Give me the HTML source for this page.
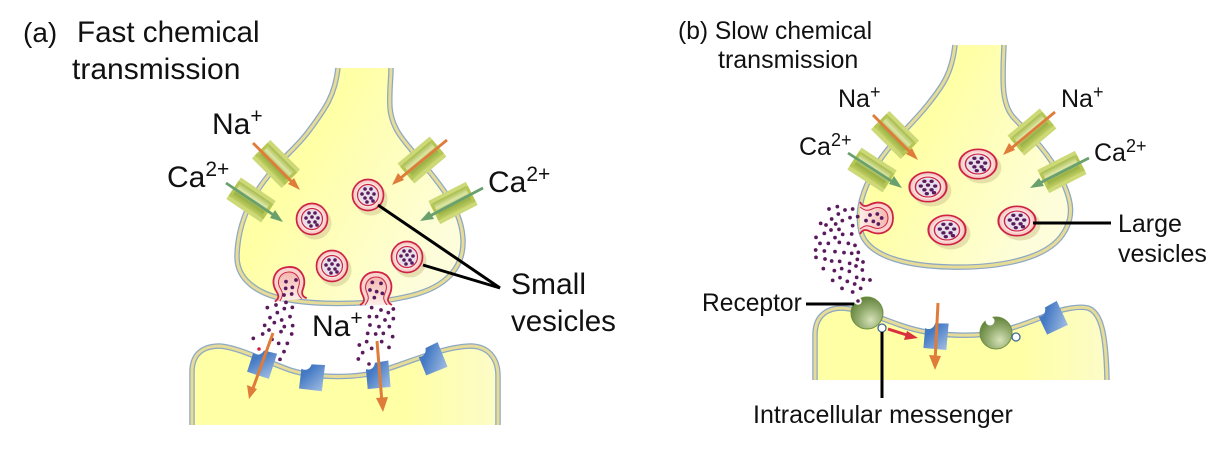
<!DOCTYPE html>
<html><head><meta charset="utf-8"><style>
html,body{margin:0;padding:0;background:#fff}
svg{display:block}
text{font-family:"Liberation Sans",sans-serif;fill:#111}
.d circle{r:5.6px}
</style></head><body>
<svg width="1228" height="464" viewBox="0 0 1228 464" xmlns="http://www.w3.org/2000/svg">
<defs>
<linearGradient id="y1" x1="0" y1="0" x2="1" y2="0.6"><stop offset="0.4" stop-color="#ffffa6"/><stop offset="1" stop-color="#fdfddc"/></linearGradient>
<linearGradient id="y2" x1="0" y1="0" x2="1" y2="0"><stop offset="0.7" stop-color="#ffffa6"/><stop offset="1" stop-color="#fcfcc8"/></linearGradient>
<linearGradient id="blue" x1="0" y1="0" x2="1" y2="1"><stop offset="0.3" stop-color="#4479c4"/><stop offset="1" stop-color="#a0bde2"/></linearGradient>
<radialGradient id="green" cx="0.62" cy="0.72" r="0.75"><stop offset="0" stop-color="#d6e2b8"/><stop offset="0.55" stop-color="#8fa86a"/><stop offset="1" stop-color="#5f8038"/></radialGradient>
<linearGradient id="chan" x1="0" y1="0" x2="0" y2="1"><stop offset="0" stop-color="#a6bb4c"/><stop offset="0.35" stop-color="#dde6a6"/><stop offset="0.65" stop-color="#98b044"/><stop offset="1" stop-color="#c0ce62"/></linearGradient>
<linearGradient id="omg" x1="0" y1="0" x2="0" y2="1"><stop offset="0" stop-color="#f3b7b0"/><stop offset="1" stop-color="#fdeee8"/></linearGradient>
<g id="ch">
<rect x="-21" y="-13" width="42" height="26" fill="#cdd977"/>
<rect x="-18" y="-9" width="36" height="18" fill="url(#chan)"/>
<rect x="-21" y="-9" width="3" height="18" fill="#b5c653"/>
<rect x="18" y="-9" width="3" height="18" fill="#b5c653"/>
</g>
<g id="ves">
<circle cx="3" cy="4" r="16.5" fill="#d9cf9c" opacity=".65"/>
<circle r="15.5" fill="#f7cfc8" stroke="#cf2345" stroke-width="1.7"/>
<circle r="12.5" fill="#fbe6e0"/>
<circle r="10.5" fill="#e9dfe8" stroke="#cf2345" stroke-width="1.2"/>
<g fill="#5a1a5e"><circle cx="-3" cy="-6" r="1.8"/><circle cx="3" cy="-6" r="1.8"/><circle cx="-6" cy="-1" r="1.8"/><circle cx="0" cy="-2" r="1.8"/><circle cx="6" cy="-1" r="1.8"/><circle cx="-3" cy="3" r="1.8"/><circle cx="3" cy="3" r="1.8"/><circle cx="-1" cy="7" r="1.8"/><circle cx="5" cy="6" r="1.8"/></g>
</g>
<g id="ome">
<path d="M-16 17C-12 15-11 12-13 8C-19-4-13-16 0-16C13-16 19-4 13 8C11 12 12 15 16 17Z" fill="#f9d4cc"/>
<path d="M-16 17C-12 15-11 12-13 8C-19-4-13-16 0-16C13-16 19-4 13 8C11 12 12 15 16 17" fill="none" stroke="#cf2345" stroke-width="1.8"/>
<path d="M-11 17C-7 12-7 9-9 5C-13-3-8-11 0-11C8-11 13-3 9 5C7 9 7 12 11 17Z" fill="url(#omg)"/>
<path d="M-11 17C-7 12-7 9-9 5C-13-3-8-11 0-11C8-11 13-3 9 5C7 9 7 12 11 17" fill="none" stroke="#cf2345" stroke-width="1"/>
</g>
<path id="rec" d="M-11.5-7C-8-5-3-7-2-12.5L11.5-13.5V13H-11.5Z" fill="url(#blue)"/>
</defs>

<!-- A terminal -->
<g stroke-linejoin="round">
<path d="M338 68C335 95 326 108 308 132C296 148 282 158 268 176C250 198 238 225 237 255C236 282 262 296 290 300C320 305 370 305 405 297C440 290 464 272 463 240C462 212 445 190 420 160C405 142 392 130 390 108C389 92 391 80 391 68Z" fill="url(#y1)" stroke="none"/>
<path d="M338 68C335 95 326 108 308 132C296 148 282 158 268 176C250 198 238 225 237 255C236 282 262 296 290 300C320 305 370 305 405 297C440 290 464 272 463 240C462 212 445 190 420 160C405 142 392 130 390 108C389 92 391 80 391 68" fill="none" stroke="#8da8c2" stroke-width="5.5"/>
<path d="M338 68C335 95 326 108 308 132C296 148 282 158 268 176C250 198 238 225 237 255C236 282 262 296 290 300C320 305 370 305 405 297C440 290 464 272 463 240C462 212 445 190 420 160C405 142 392 130 390 108C389 92 391 80 391 68" fill="none" stroke="#e6dc98" stroke-width="3"/>
<!-- A post -->
<path d="M192 425V372C192 352 205 346 220 346C240 348 262 360 290 370C315 378 360 380 390 368C420 358 445 347 470 346C488 346 498 358 498 376V425Z" fill="url(#y2)"/>
<path d="M192 425V372C192 352 205 346 220 346C240 348 262 360 290 370C315 378 360 380 390 368C420 358 445 347 470 346C488 346 498 358 498 376V425" fill="none" stroke="#8da8c2" stroke-width="5.5"/>
<path d="M192 425V372C192 352 205 346 220 346C240 348 262 360 290 370C315 378 360 380 390 368C420 358 445 347 470 346C488 346 498 358 498 376V425" fill="none" stroke="#e6dc98" stroke-width="3"/>
<!-- B terminal -->
<path d="M955 45C952 72 944 85 925 108C905 132 882 150 870 178C860 198 857 215 861 232C868 256 905 266 950 267C990 268 1040 262 1060 238C1076 218 1072 200 1060 176C1048 152 1030 135 1014 118C1002 105 1002 85 1004 45Z" fill="url(#y1)"/>
<path d="M955 45C952 72 944 85 925 108C905 132 882 150 870 178C860 198 857 215 861 232C868 256 905 266 950 267C990 268 1040 262 1060 238C1076 218 1072 200 1060 176C1048 152 1030 135 1014 118C1002 105 1002 85 1004 45" fill="none" stroke="#8da8c2" stroke-width="5.5"/>
<path d="M955 45C952 72 944 85 925 108C905 132 882 150 870 178C860 198 857 215 861 232C868 256 905 266 950 267C990 268 1040 262 1060 238C1076 218 1072 200 1060 176C1048 152 1030 135 1014 118C1002 105 1002 85 1004 45" fill="none" stroke="#e6dc98" stroke-width="3"/>
<!-- B post -->
<path d="M815 380V335C815 315 828 308 842 308C860 309 880 318 900 325C925 334 950 336 975 335C1000 334 1030 322 1050 314C1065 308 1080 306 1088 308C1100 312 1106 330 1107 380Z" fill="url(#y2)"/>
<path d="M815 380V335C815 315 828 308 842 308C860 309 880 318 900 325C925 334 950 336 975 335C1000 334 1030 322 1050 314C1065 308 1080 306 1088 308C1100 312 1106 330 1107 380" fill="none" stroke="#8da8c2" stroke-width="5.5"/>
<path d="M815 380V335C815 315 828 308 842 308C860 309 880 318 900 325C925 334 950 336 975 335C1000 334 1030 322 1050 314C1065 308 1080 306 1088 308C1100 312 1106 330 1107 380" fill="none" stroke="#e6dc98" stroke-width="3"/>
</g>

<!-- vesicles A -->
<use href="#ves" transform="translate(312 219)"/>
<use href="#ves" transform="translate(368 195)"/>
<use href="#ves" transform="translate(332 266)"/>
<use href="#ves" transform="translate(407 257)"/>
<!-- vesicles B -->
<use href="#ves" transform="translate(928 187) scale(1.2 .95)"/>
<use href="#ves" transform="translate(978 164) scale(1.2 .95)"/>
<use href="#ves" transform="translate(947 230) scale(1.2 .95)"/>
<use href="#ves" transform="translate(1017 221) scale(1.2 .95)"/>

<!-- omega vesicles -->
<use href="#ome" transform="translate(289 283) rotate(-6)"/>
<use href="#ome" transform="translate(376 288)"/>
<use href="#ome" transform="translate(877 218) rotate(90)"/>

<!-- dots A -->
<g class="d" transform="translate(180 260) scale(.33333)" fill="#5a1a5e">
<circle cx="318" cy="65" r="5"/><circle cx="348" cy="60" r="5"/><circle cx="337" cy="82" r="5"/><circle cx="317" cy="85" r="5"/><circle cx="335" cy="102" r="5"/><circle cx="312" cy="105" r="5"/>
<circle cx="577" cy="67" r="5"/><circle cx="603" cy="70" r="5"/><circle cx="590" cy="95" r="5"/><circle cx="570" cy="90" r="5"/><circle cx="607" cy="100" r="5"/><circle cx="583" cy="113" r="5"/>
<circle cx="262" cy="143" r="5"/><circle cx="288" cy="135" r="5"/><circle cx="318" cy="127" r="5"/><circle cx="337" cy="142" r="5"/><circle cx="313" cy="146" r="5"/><circle cx="292" cy="158" r="5"/><circle cx="270" cy="173" r="5"/><circle cx="305" cy="180" r="5"/><circle cx="330" cy="170" r="5"/><circle cx="283" cy="188" r="5"/><circle cx="254" cy="196" r="5"/><circle cx="338" cy="197" r="5"/><circle cx="313" cy="200" r="5"/><circle cx="303" cy="215" r="5"/><circle cx="335" cy="222" r="5"/><circle cx="267" cy="210" r="5"/><circle cx="248" cy="222" r="5"/><circle cx="220" cy="235" r="5"/><circle cx="276" cy="238" r="5"/><circle cx="296" cy="250" r="5"/><circle cx="322" cy="250" r="5"/><circle cx="312" cy="275" r="5"/><circle cx="300" cy="298" r="5"/>
<circle cx="575" cy="143" r="5"/><circle cx="603" cy="150" r="5"/><circle cx="625" cy="158" r="5"/><circle cx="640" cy="147" r="5"/><circle cx="568" cy="170" r="5"/><circle cx="590" cy="170" r="5"/><circle cx="615" cy="180" r="5"/><circle cx="640" cy="176" r="5"/><circle cx="570" cy="195" r="5"/><circle cx="597" cy="200" r="5"/><circle cx="628" cy="200" r="5"/><circle cx="563" cy="220" r="5"/><circle cx="587" cy="222" r="5"/><circle cx="610" cy="220" r="5"/><circle cx="638" cy="230" r="5"/><circle cx="538" cy="255" r="5"/><circle cx="560" cy="245" r="5"/><circle cx="605" cy="245" r="5"/><circle cx="627" cy="262" r="5"/><circle cx="575" cy="265" r="5"/><circle cx="548" cy="278" r="5"/><circle cx="535" cy="297" r="5"/>
</g>

<!-- dots B -->
<g class="d" transform="translate(790 200) scale(.33333)" fill="#5a1a5e">
<circle cx="240" cy="45" r="5"/><circle cx="262" cy="42" r="5"/><circle cx="228" cy="62" r="5"/><circle cx="250" cy="64" r="5"/><circle cx="275" cy="54" r="5"/><circle cx="265" cy="72" r="5"/>
<circle cx="117" cy="27" r="5"/><circle cx="142" cy="20" r="5"/><circle cx="165" cy="30" r="5"/><circle cx="188" cy="27" r="5"/><circle cx="145" cy="42" r="5"/><circle cx="125" cy="57" r="5"/><circle cx="180" cy="53" r="5"/><circle cx="203" cy="50" r="5"/><circle cx="157" cy="62" r="5"/><circle cx="92" cy="70" r="5"/><circle cx="108" cy="75" r="5"/><circle cx="137" cy="72" r="5"/><circle cx="188" cy="77" r="5"/><circle cx="123" cy="90" r="5"/><circle cx="147" cy="88" r="5"/><circle cx="103" cy="100" r="5"/><circle cx="158" cy="103" r="5"/><circle cx="185" cy="102" r="5"/><circle cx="78" cy="112" r="5"/><circle cx="135" cy="113" r="5"/><circle cx="90" cy="130" r="5"/><circle cx="115" cy="130" r="5"/><circle cx="148" cy="127" r="5"/><circle cx="175" cy="130" r="5"/><circle cx="195" cy="136" r="5"/><circle cx="77" cy="150" r="5"/><circle cx="103" cy="153" r="5"/><circle cx="135" cy="155" r="5"/><circle cx="162" cy="158" r="5"/><circle cx="185" cy="160" r="5"/><circle cx="205" cy="157" r="5"/><circle cx="78" cy="172" r="5"/><circle cx="105" cy="177" r="5"/><circle cx="125" cy="183" r="5"/><circle cx="149" cy="184" r="5"/><circle cx="179" cy="190" r="5"/><circle cx="202" cy="178" r="5"/><circle cx="219" cy="186" r="5"/><circle cx="198" cy="198" r="5"/><circle cx="100" cy="206" r="5"/><circle cx="155" cy="206" r="5"/><circle cx="133" cy="212" r="5"/><circle cx="178" cy="214" r="5"/><circle cx="217" cy="210" r="5"/><circle cx="150" cy="233" r="5"/><circle cx="200" cy="232" r="5"/><circle cx="128" cy="241" r="5"/><circle cx="172" cy="244" r="5"/><circle cx="220" cy="238" r="5"/><circle cx="240" cy="240" r="5"/><circle cx="194" cy="252" r="5"/><circle cx="156" cy="265" r="5"/><circle cx="212" cy="265" r="5"/><circle cx="188" cy="276" r="5"/>
</g>

<!-- channels A -->
<use href="#ch" transform="translate(276 164) rotate(45)"/>
<use href="#ch" transform="translate(251 200) rotate(34)"/>
<use href="#ch" transform="translate(422 160) rotate(-40)"/>
<use href="#ch" transform="translate(453 203) rotate(-27)"/>
<!-- channels B -->
<use href="#ch" transform="translate(895 135) rotate(45)"/>
<use href="#ch" transform="translate(872 170) rotate(33)"/>
<use href="#ch" transform="translate(1032 132) rotate(-40)"/>
<use href="#ch" transform="translate(1062 172) rotate(-27)"/>

<!-- receptors -->
<use href="#rec" transform="translate(262 363) rotate(18)"/>
<use href="#rec" transform="translate(312 377) rotate(7)"/>
<use href="#rec" transform="translate(378 375) rotate(-5)"/>
<use href="#rec" transform="translate(432 359) rotate(-22)"/>
<use href="#rec" transform="translate(936 336) rotate(5)"/>
<use href="#rec" transform="translate(1052 318) rotate(-25)"/>
<circle cx="259" cy="349" r="1.8" fill="#cf2345"/>
<circle cx="369" cy="364" r="1.8" fill="#5a1a5e"/>

<circle cx="867" cy="313" r="16" fill="url(#green)" stroke="#6b8f3f" stroke-width="1"/>
<circle cx="858" cy="301" r="3.8" fill="#fff"/>
<circle cx="858" cy="301" r="1.8" fill="#5a1a5e"/>
<circle cx="996" cy="333" r="16" fill="url(#green)" stroke="#6b8f3f" stroke-width="1"/>
<circle cx="990" cy="321" r="4.5" fill="#fff"/>
<circle cx="882" cy="328" r="4" fill="#fff" stroke="#3f6a96" stroke-width="1.3"/>
<circle cx="1016" cy="337" r="4" fill="#fff" stroke="#3f6a96" stroke-width="1.3"/>

<!-- arrows -->
<g fill="none" stroke-width="2.8">
<line x1="253" y1="143" x2="295" y2="185" stroke="#e07c3a"/>
<line x1="226" y1="183" x2="278" y2="218" stroke="#6aa06e"/>
<line x1="447" y1="140" x2="397" y2="181" stroke="#e07c3a"/>
<line x1="483" y1="188" x2="426" y2="218" stroke="#6aa06e"/>
<line x1="873" y1="115" x2="914" y2="156" stroke="#e07c3a"/>
<line x1="848" y1="153" x2="896" y2="184" stroke="#6aa06e"/>
<line x1="1055" y1="112" x2="1008" y2="151" stroke="#e07c3a"/>
<line x1="1089" y1="158" x2="1036" y2="185" stroke="#6aa06e"/>
<line x1="273" y1="333" x2="252" y2="391" stroke="#e07c3a" stroke-width="3"/>
<line x1="377" y1="341" x2="382" y2="403" stroke="#e07c3a" stroke-width="3"/>
<line x1="938" y1="303" x2="935" y2="362" stroke="#e07c3a" stroke-width="3"/>
<line x1="888" y1="329" x2="910" y2="336" stroke="#d8303c" stroke-width="3"/>
</g>
<g>
<polygon points="300,190 288,184 294,178" fill="#e07c3a"/>
<polygon points="283,222 270,218 275,210" fill="#6aa06e"/>
<polygon points="392,185 398,173 404,180" fill="#e07c3a"/>
<polygon points="420,221 429,211 434,219" fill="#6aa06e"/>
<polygon points="918,160 906,154 912,148" fill="#e07c3a"/>
<polygon points="902,188 889,184 894,176" fill="#6aa06e"/>
<polygon points="1003,155 1009,143 1015,150" fill="#e07c3a"/>
<polygon points="1030,188 1039,178 1044,186" fill="#6aa06e"/>
<polygon points="249,399 247,385 257,389" fill="#e07c3a"/>
<polygon points="383,412 376,398 388,397" fill="#e07c3a"/>
<polygon points="935,370 929,355 941,356" fill="#e07c3a"/>
<polygon points="918,338 904,340 907,331" fill="#d8303c"/>
</g>

<!-- leader lines -->
<g stroke="#000" stroke-width="3" fill="none">
<line x1="378" y1="205" x2="500" y2="288"/>
<line x1="423" y1="265" x2="500" y2="288"/>
<line x1="1033" y1="223" x2="1111" y2="223"/>
<line x1="806" y1="304" x2="854" y2="304"/>
<line x1="882" y1="332" x2="882" y2="398"/>
</g>

<!-- text -->
<text x="23" y="42" font-size="28">(a)</text>
<text x="77" y="42" font-size="29.6">Fast chemical</text>
<text x="72" y="79" font-size="30">transmission</text>
<text x="212" y="134" font-size="30">Na<tspan font-size="21" dy="-11">+</tspan></text>
<text x="167" y="187" font-size="30">Ca<tspan font-size="21" dy="-11">2+</tspan></text>
<text x="488" y="192" font-size="30">Ca<tspan font-size="21" dy="-11">2+</tspan></text>
<text x="312" y="336" font-size="30">Na<tspan font-size="21" dy="-11">+</tspan></text>
<text x="511" y="294" font-size="30">Small</text>
<text x="511" y="331" font-size="29.5">vesicles</text>
<text x="678" y="39" font-size="24.6">(b) Slow chemical</text>
<text x="718" y="68" font-size="25">transmission</text>
<text x="838" y="107" font-size="25">Na<tspan font-size="18" dy="-9">+</tspan></text>
<text x="1061" y="107" font-size="25">Na<tspan font-size="18" dy="-9">+</tspan></text>
<text x="799" y="155" font-size="25">Ca<tspan font-size="18" dy="-9">2+</tspan></text>
<text x="1094" y="161" font-size="25">Ca<tspan font-size="18" dy="-9">2+</tspan></text>
<text x="1118" y="232" font-size="25">Large</text>
<text x="1118" y="262" font-size="25">vesicles</text>
<text x="702" y="311" font-size="24.6">Receptor</text>
<text x="753" y="423" font-size="25">Intracellular messenger</text>
</svg>
</body></html>
